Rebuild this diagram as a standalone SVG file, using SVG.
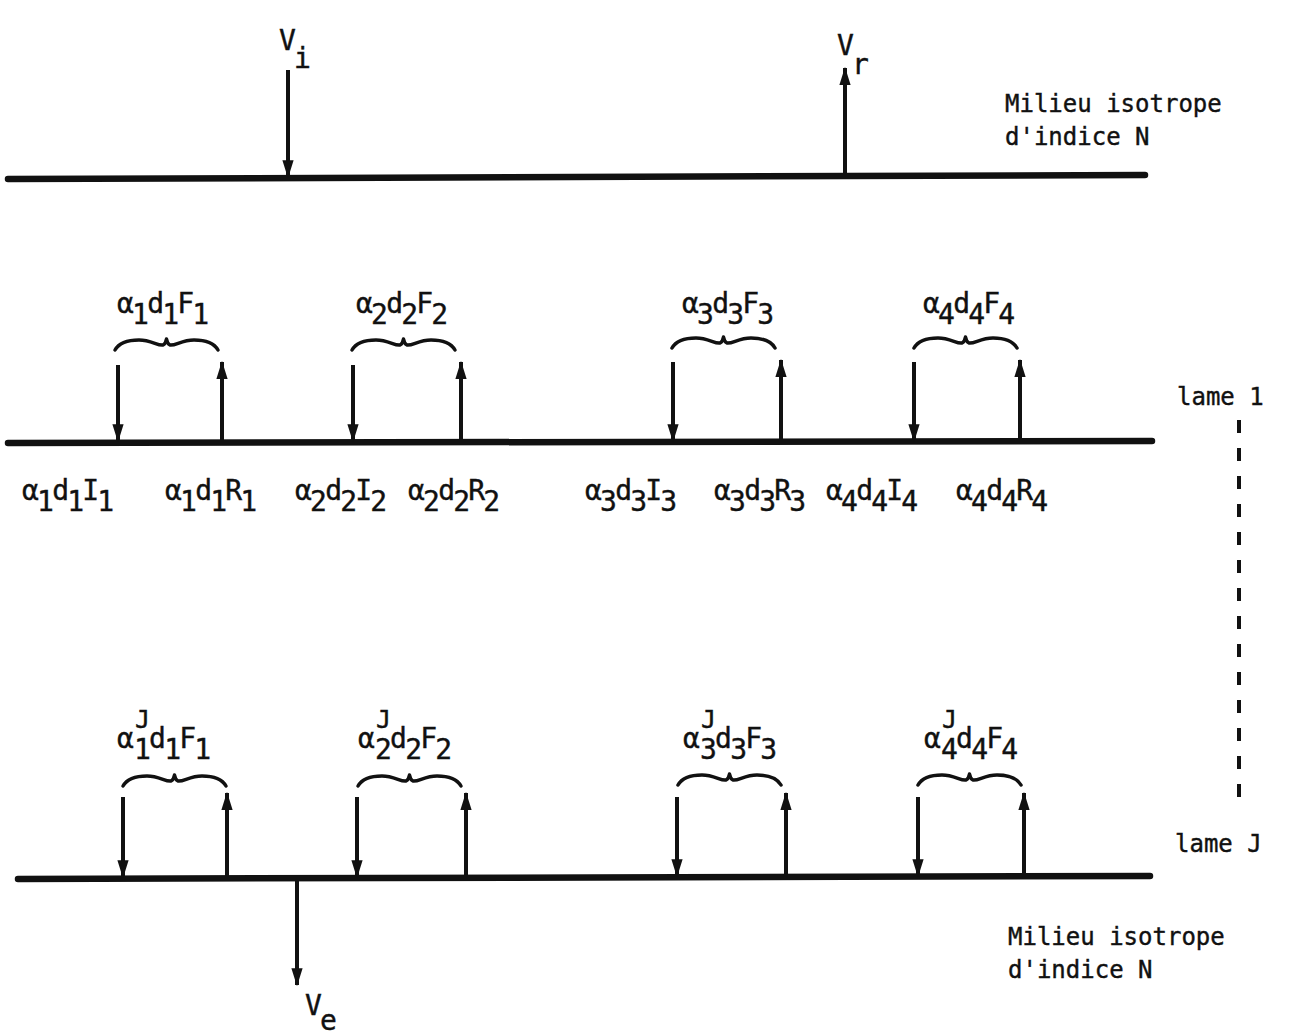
<svg xmlns="http://www.w3.org/2000/svg" width="1298" height="1036" viewBox="0 0 1298 1036">
<style>
.t{font-family:"DejaVu Sans Mono","Liberation Mono",monospace;font-size:24px;fill:#111;stroke:#111;stroke-width:0.4}
.m{font-family:"DejaVu Sans Mono","Liberation Mono",monospace;font-size:28px;fill:#111;stroke:#111;stroke-width:0.4;letter-spacing:-1.8px}
.s{font-family:"DejaVu Sans Mono","Liberation Mono",monospace;font-size:25px;fill:#111;stroke:#111;stroke-width:0.4}
.ln{stroke:#111;stroke-width:6.5;stroke-linecap:round;fill:none}
.ar{stroke:#111;stroke-width:4;fill:none}
.br{stroke:#111;stroke-width:3.5;fill:none;stroke-linecap:round;stroke-linejoin:round}
</style>
<defs>
<marker id="ah" viewBox="0 0 16 10" refX="15" refY="5" markerWidth="4.5" markerHeight="3" orient="auto" markerUnits="strokeWidth">
<path d="M0,0 L16,5 L0,10 z" fill="#111"/>
</marker>
<path id="brace" d="M0,10 C4,3 12,0 24,0 C36,0 43,6 48,5 C50,4 51,2 51.5,-1 C52,2 53,4 55,5 C60,6 67,0 79,0 C91,0 99,3 103,10"/>
</defs>

<g id="interfaces">
<line class="ln" x1="8" y1="179" x2="1145" y2="175"/>
<line class="ln" x1="8" y1="443" x2="1152" y2="441"/>
<line class="ln" x1="18" y1="879" x2="1150" y2="876"/>
</g>

<g id="connectors">
<line class="ar" x1="288" y1="70" x2="288" y2="177" marker-end="url(#ah)"/>
<line class="ar" x1="845" y1="176" x2="845" y2="68" marker-end="url(#ah)"/>
<line class="ar" x1="297" y1="879" x2="297" y2="985" marker-end="url(#ah)"/>

<line class="ar" x1="118" y1="365" x2="118" y2="441" marker-end="url(#ah)"/>
<line class="ar" x1="222" y1="442" x2="222" y2="362" marker-end="url(#ah)"/>
<line class="ar" x1="353" y1="365" x2="353" y2="441" marker-end="url(#ah)"/>
<line class="ar" x1="461" y1="442" x2="461" y2="362" marker-end="url(#ah)"/>
<line class="ar" x1="673" y1="362" x2="673" y2="441" marker-end="url(#ah)"/>
<line class="ar" x1="781" y1="442" x2="781" y2="360" marker-end="url(#ah)"/>
<line class="ar" x1="914" y1="362" x2="914" y2="441" marker-end="url(#ah)"/>
<line class="ar" x1="1020" y1="441" x2="1020" y2="360" marker-end="url(#ah)"/>

<line class="ar" x1="123" y1="797" x2="123" y2="877" marker-end="url(#ah)"/>
<line class="ar" x1="227" y1="878" x2="227" y2="793" marker-end="url(#ah)"/>
<line class="ar" x1="357" y1="797" x2="357" y2="877" marker-end="url(#ah)"/>
<line class="ar" x1="466" y1="877" x2="466" y2="793" marker-end="url(#ah)"/>
<line class="ar" x1="677" y1="797" x2="677" y2="876" marker-end="url(#ah)"/>
<line class="ar" x1="786" y1="876" x2="786" y2="793" marker-end="url(#ah)"/>
<line class="ar" x1="918" y1="797" x2="918" y2="876" marker-end="url(#ah)"/>
<line class="ar" x1="1024" y1="876" x2="1024" y2="793" marker-end="url(#ah)"/>

<line x1="1239" y1="420" x2="1239" y2="812" stroke="#111" stroke-width="4" stroke-dasharray="13 15"/>
</g>

<g id="braces">
<use href="#brace" class="br" transform="translate(115,340)"/>
<use href="#brace" class="br" transform="translate(352,340)"/>
<use href="#brace" class="br" transform="translate(672,338)"/>
<use href="#brace" class="br" transform="translate(914,338)"/>
<use href="#brace" class="br" transform="translate(123,776)"/>
<use href="#brace" class="br" transform="translate(358,776)"/>
<use href="#brace" class="br" transform="translate(678,775)"/>
<use href="#brace" class="br" transform="translate(918,775)"/>
</g>

<g id="velocity-labels">
<text class="m" x="279" y="50">V<tspan dy="18">i</tspan></text>
<text class="m" x="837" y="55">V<tspan dy="19">r</tspan></text>
<text class="m" x="305" y="1015">V<tspan dy="15">e</tspan></text>
</g>

<g id="medium-top">
<text class="t" x="1005" y="112">Milieu isotrope</text>
<text class="t" x="1005" y="145">d'indice N</text>
</g>
<g id="medium-bottom">
<text class="t" x="1008" y="945">Milieu isotrope</text>
<text class="t" x="1008" y="978">d'indice N</text>
</g>
<g id="layers">
<text class="t" x="1177" y="405">lame 1</text>
<text class="t" x="1175" y="852">lame J</text>
</g>

<g id="row1-labels">
<text class="m" x="117" y="313">α<tspan dy="11">1</tspan><tspan dy="-11">d</tspan><tspan dy="11">1</tspan><tspan dy="-11">F</tspan><tspan dy="11">1</tspan></text>
<text class="m" x="356" y="313">α<tspan dy="11">2</tspan><tspan dy="-11">d</tspan><tspan dy="11">2</tspan><tspan dy="-11">F</tspan><tspan dy="11">2</tspan></text>
<text class="m" x="682" y="313">α<tspan dy="11">3</tspan><tspan dy="-11">d</tspan><tspan dy="11">3</tspan><tspan dy="-11">F</tspan><tspan dy="11">3</tspan></text>
<text class="m" x="923" y="313">α<tspan dy="11">4</tspan><tspan dy="-11">d</tspan><tspan dy="11">4</tspan><tspan dy="-11">F</tspan><tspan dy="11">4</tspan></text>
</g>

<g id="row2-labels">
<text class="m" x="22" y="500">α<tspan dy="11">1</tspan><tspan dy="-11">d</tspan><tspan dy="11">1</tspan><tspan dy="-11">I</tspan><tspan dy="11">1</tspan></text>
<text class="m" x="165" y="500">α<tspan dy="11">1</tspan><tspan dy="-11">d</tspan><tspan dy="11">1</tspan><tspan dy="-11">R</tspan><tspan dy="11">1</tspan></text>
<text class="m" x="295" y="500">α<tspan dy="11">2</tspan><tspan dy="-11">d</tspan><tspan dy="11">2</tspan><tspan dy="-11">I</tspan><tspan dy="11">2</tspan></text>
<text class="m" x="408" y="500">α<tspan dy="11">2</tspan><tspan dy="-11">d</tspan><tspan dy="11">2</tspan><tspan dy="-11">R</tspan><tspan dy="11">2</tspan></text>
<text class="m" x="585" y="500">α<tspan dy="11">3</tspan><tspan dy="-11">d</tspan><tspan dy="11">3</tspan><tspan dy="-11">I</tspan><tspan dy="11">3</tspan></text>
<text class="m" x="714" y="500">α<tspan dy="11">3</tspan><tspan dy="-11">d</tspan><tspan dy="11">3</tspan><tspan dy="-11">R</tspan><tspan dy="11">3</tspan></text>
<text class="m" x="826" y="500">α<tspan dy="11">4</tspan><tspan dy="-11">d</tspan><tspan dy="11">4</tspan><tspan dy="-11">I</tspan><tspan dy="11">4</tspan></text>
<text class="m" x="956" y="500">α<tspan dy="11">4</tspan><tspan dy="-11">d</tspan><tspan dy="11">4</tspan><tspan dy="-11">R</tspan><tspan dy="11">4</tspan></text>
</g>

<g id="row3-labels">
<g id="lbl3-1"><text class="m" x="117" y="748">α</text><text class="s" x="135" y="728">J</text><text class="m" x="134" y="759">1<tspan dy="-11">d</tspan><tspan dy="11">1</tspan><tspan dy="-11">F</tspan><tspan dy="11">1</tspan></text></g>
<g id="lbl3-2"><text class="m" x="358" y="748">α</text><text class="s" x="376" y="728">J</text><text class="m" x="375" y="759">2<tspan dy="-11">d</tspan><tspan dy="11">2</tspan><tspan dy="-11">F</tspan><tspan dy="11">2</tspan></text></g>
<g id="lbl3-3"><text class="m" x="683" y="748">α</text><text class="s" x="701" y="728">J</text><text class="m" x="700" y="759">3<tspan dy="-11">d</tspan><tspan dy="11">3</tspan><tspan dy="-11">F</tspan><tspan dy="11">3</tspan></text></g>
<g id="lbl3-4"><text class="m" x="924" y="748">α</text><text class="s" x="942" y="728">J</text><text class="m" x="941" y="759">4<tspan dy="-11">d</tspan><tspan dy="11">4</tspan><tspan dy="-11">F</tspan><tspan dy="11">4</tspan></text></g>
</g>
</svg>
